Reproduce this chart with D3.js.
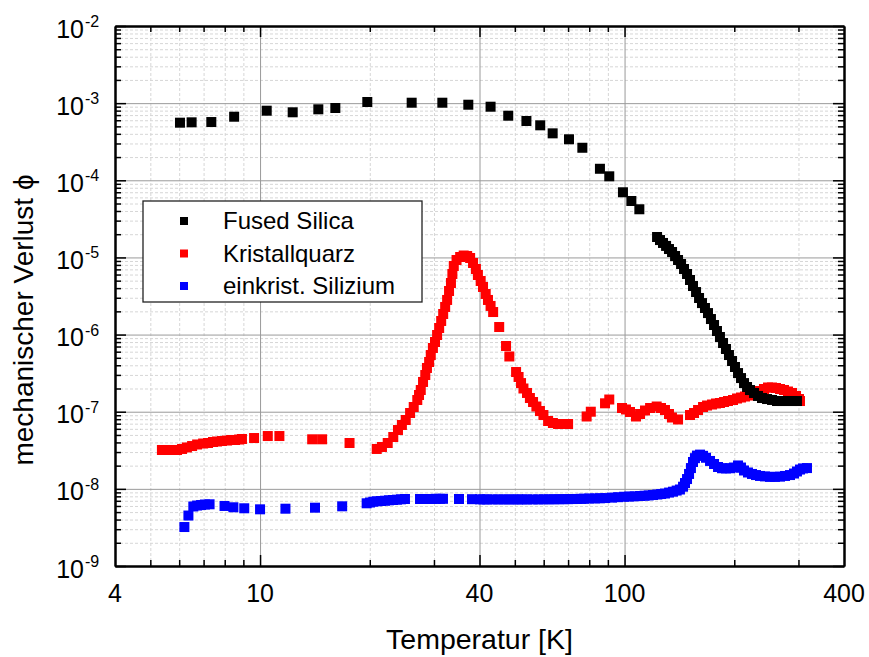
<!DOCTYPE html>
<html>
<head>
<meta charset="utf-8">
<script src="https://cdn.jsdelivr.net/npm/d3@7"></script>
<style>
body { margin: 0; background: #fff; }
text { font-family: "Liberation Sans", Arial, sans-serif; fill: #000; }
</style>
</head>
<body>
<svg id="chart" width="869" height="657"></svg>
<script>
// [Temperatur K, phi]
const fusedSilica = [
  [6.03,5.58e-4],[6.49,5.64e-4],[7.35,5.69e-4],[8.49,6.67e-4],[10.43,7.98e-4],[12.29,7.61e-4],
  [14.45,8.32e-4],[16.09,8.65e-4],[19.69,1.035e-3],[26.06,1.013e-3],[31.63,1.013e-3],[37.27,9.54e-4],
  [42.9,8.99e-4],[47.96,6.87e-4],[53.8,5.87e-4],[58.7,5.16e-4],[63.5,4.06e-4],[70.4,3.40e-4],
  [76.6,2.64e-4],[85.6,1.41e-4],[90.8,1.126e-4],[99.0,6.99e-5],[104.4,5.39e-5],[109.8,4.21e-5],
  [122.8,1.84e-5],[125.1,1.68e-5],[127.5,1.54e-5],[130.0,1.41e-5],[132.4,1.285e-5],[135.0,1.176e-5],
  [137.6,1.043e-5],[140.2,9.26e-6],[142.9,8.22e-6],[145.6,7.08e-6],[148.4,6.10e-6],[151.2,5.10e-6],
  [154.1,4.26e-6],[157.1,3.56e-6],[160.1,2.98e-6],[163.1,2.56e-6],[166.2,2.21e-6],[169.4,1.90e-6],
  [172.6,1.59e-6],[176.0,1.33e-6],[179.3,1.112e-6],[182.7,9.30e-7],[186.3,7.77e-7],[189.8,6.50e-7],
  [193.4,5.43e-7],[197.2,4.54e-7],[200.9,3.80e-7],[204.8,3.17e-7],[208.7,2.73e-7],[212.7,2.35e-7],
  [216.8,2.09e-7],[220.9,1.91e-7],[226.6,1.75e-7],[232.4,1.60e-7],[238.3,1.505e-7],[246.0,1.46e-7],
  [253.9,1.42e-7],[262.0,1.376e-7],[270.5,1.376e-7],[279.1,1.376e-7],[288.1,1.376e-7],[297.2,1.376e-7]
];

const kristallquarz = [
  [5.38,3.19e-8],[5.56,3.19e-8],[5.74,3.19e-8],[5.92,3.19e-8],[6.11,3.29e-8],[6.30,3.44e-8],
  [6.51,3.59e-8],[6.72,3.76e-8],[6.98,3.87e-8],[7.20,3.93e-8],[7.43,4.05e-8],[7.62,4.11e-8],
  [7.86,4.17e-8],[8.12,4.23e-8],[8.33,4.30e-8],[8.54,4.30e-8],[8.76,4.36e-8],[8.92,4.43e-8],
  [9.63,4.56e-8],[10.5,4.84e-8],[11.3,4.84e-8],[13.9,4.39e-8],[14.8,4.39e-8],[17.6,3.93e-8],
  [20.9,3.29e-8],[21.6,3.49e-8],[22.4,3.93e-8],[23.2,4.70e-8],[23.9,5.79e-8],[24.5,6.73e-8],
  [25.1,7.81e-8],[25.8,9.62e-8],[26.4,1.151e-7],[27.0,1.418e-7],[27.3,1.647e-7],[27.6,1.912e-7],
  [28.0,2.43e-7],[28.4,2.99e-7],[28.7,3.69e-7],[29.1,4.41e-7],[29.4,5.43e-7],[29.8,6.70e-7],
  [30.2,8.01e-7],[30.6,9.87e-7],[31.0,1.217e-6],[31.4,1.50e-6],[31.8,1.848e-6],[32.2,2.28e-6],
  [32.6,2.81e-6],[33.0,3.67e-6],[33.4,4.66e-6],[33.7,6.10e-6],[34.0,7.74e-6],[34.6,9.26e-6],
  [35.4,1.013e-5],[36.2,1.059e-5],[37.0,1.043e-5],[37.7,9.83e-6],[38.4,8.47e-6],[39.1,7.08e-6],
  [39.6,5.92e-6],[40.3,4.95e-6],[40.9,4.14e-6],[41.6,3.36e-6],[42.2,2.81e-6],[42.9,2.35e-6],
  [43.6,1.96e-6],[45.3,1.253e-6],[47.3,7.11e-7],[48.3,5.20e-7],[50.4,3.27e-7],[51.2,2.82e-7],
  [52.0,2.35e-7],[52.8,2.00e-7],[54.0,1.75e-7],[55.0,1.505e-7],[56.1,1.336e-7],[57.3,1.168e-7],
  [58.6,1.021e-7],[59.9,9.06e-8],[61.7,7.58e-8],[63.6,7.14e-8],[65.7,6.93e-8],[67.8,6.93e-8],
  [70.0,6.93e-8],[78.7,8.67e-8],[80.8,1.0e-7],[88.4,1.285e-7],[90.8,1.439e-7],[98.4,1.117e-7],
  [100.9,1.069e-7],[103.5,9.92e-8],[107.5,8.67e-8],[110.3,9.34e-8],[113.8,1.037e-7],[117.5,1.117e-7],
  [122.5,1.168e-7],[125.9,1.117e-7],[129.1,1.052e-7],[132.4,9.34e-8],[134.9,8.41e-8],[140.2,7.93e-8],
  [151.2,9.06e-8],[155.1,9.62e-8],[159.1,1.052e-7],[164.2,1.151e-7],[168.4,1.203e-7],[173.8,1.240e-7],
  [178.2,1.278e-7],[182.7,1.297e-7],[187.5,1.336e-7],[192.2,1.376e-7],[198.4,1.418e-7],[203.5,1.483e-7],
  [208.7,1.528e-7],[214.0,1.574e-7],[219.5,1.622e-7],[223.7,1.671e-7],[229.4,1.75e-7],[235.3,1.856e-7],
  [241.3,1.970e-7],[247.5,2.06e-7],[253.8,2.06e-7],[260.3,2.03e-7],[267.0,1.970e-7],[273.8,1.912e-7],
  [280.8,1.828e-7],[288.0,1.75e-7],[295.4,1.60e-7],[301.0,1.461e-7],[302.9,1.376e-7]
];

const silizium = [
  [6.20,3.20e-9],[6.36,4.51e-9],[6.56,5.91e-9],[6.72,6.08e-9],[6.89,6.17e-9],[7.06,6.27e-9],
  [7.27,6.31e-9],[7.99,6.0e-9],[8.45,5.77e-9],[9.05,5.60e-9],[10.0,5.43e-9],[11.74,5.53e-9],
  [14.15,5.70e-9],[16.8,5.94e-9],[19.61,6.50e-9],[20.03,6.65e-9],[20.45,6.82e-9],[20.94,6.90e-9],
  [21.47,6.96e-9],[22.02,7.02e-9],[22.58,7.11e-9],[23.16,7.17e-9],[23.75,7.24e-9],[24.36,7.32e-9],
  [24.98,7.39e-9],[27.47,7.39e-9],[28.17,7.39e-9],[28.89,7.39e-9],[29.63,7.39e-9],[30.39,7.43e-9],
  [31.17,7.43e-9],[31.76,7.43e-9],[35.14,7.39e-9],[38.15,7.35e-9],[40.13,7.32e-9],[41,7.3e-9],
  [42,7.3e-9],[43.5,7.3e-9],[45,7.3e-9],[46.5,7.3e-9],[48,7.3e-9],[49.5,7.3e-9],[51,7.3e-9],
  [52.5,7.3e-9],[54,7.3e-9],[56,7.3e-9],[58,7.3e-9],[60,7.32e-9],[62,7.32e-9],[64,7.33e-9],
  [66,7.34e-9],[68,7.35e-9],[70,7.36e-9],[72,7.38e-9],[74,7.4e-9],[76,7.42e-9],[77.4,7.45e-9],
  [80,7.5e-9],[83,7.52e-9],[85.6,7.55e-9],[88.5,7.6e-9],[92.4,7.7e-9],[96,7.8e-9],[99.7,7.9e-9],
  [103,7.95e-9],[106.5,8.0e-9],[110.3,8.08e-9],[113.5,8.15e-9],[116.5,8.22e-9],[119.7,8.32e-9],
  [123,8.45e-9],[126,8.57e-9],[129.1,8.7e-9],[132.5,8.95e-9],[135.8,9.19e-9],[139,9.5e-9],
  [141.9,9.81e-9],[144.7,1.066e-8],[146.5,1.19e-8],[148.4,1.34e-8],[150.3,1.56e-8],[152.1,1.86e-8],
  [154.1,2.23e-8],[156.0,2.5e-8],[158.0,2.7e-8],[161.1,2.78e-8],[164.2,2.68e-8],[167.3,2.53e-8],
  [171.6,2.3e-8],[176.0,2.1e-8],[180.5,1.92e-8],[185.1,1.85e-8],[189.8,1.84e-8],[194.7,1.85e-8],
  [199.6,1.89e-8],[204.8,2.01e-8],[208.7,1.89e-8],[212.7,1.73e-8],[218.1,1.63e-8],[223.7,1.56e-8],
  [229.4,1.51e-8],[235.3,1.47e-8],[242.8,1.45e-8],[250.6,1.43e-8],[258.6,1.43e-8],[267.0,1.44e-8],
  [275.6,1.47e-8],[284.4,1.51e-8],[291.7,1.58e-8],[297.2,1.68e-8],[302.9,1.78e-8],[308.7,1.84e-8],
  [316.6,1.86e-8]
];

const xLabels = [4, 10, 40, 100, 400];
const xMajor = [10, 40, 100];
const xMinor = [5, 6, 7, 8, 9, 20, 30, 50, 60, 70, 80, 90, 200, 300];
const yExponents = [-9, -8, -7, -6, -5, -4, -3, -2];

const seriesNames = ["Fused Silica", "Kristallquarz", "einkrist. Silizium"];
const seriesColors = ["#000000", "#ff0000", "#0000ff"];

var margin = {top: 26, left: 115, right: 25, bottom: 91},
    width = 869, height = 657;
var x0 = margin.left, x1 = width - margin.right,
    y0 = height - margin.bottom, y1 = margin.top;

var svg = d3.select('#chart');

var x = d3.scaleLog().domain([4, 400]).range([x0, x1]);
var y = d3.scaleLog().domain([1e-9, 1e-2]).range([y0, y1]);

var yMajor = yExponents.map(e => Math.pow(10, e));
var yMinor = [];
yExponents.slice(0, -1).forEach(e => {
  for (var k = 2; k <= 9; k++) yMinor.push(k * Math.pow(10, e));
});

// grid
function grid(axis, tr, color, dash) {
  var g = svg.append('g').attr('transform', tr).call(axis);
  g.select('.domain').remove();
  g.selectAll('line').attr('stroke', color).attr('stroke-width', 1)
    .attr('stroke-dasharray', dash);
  g.selectAll('text').remove();
  return g;
}
grid(d3.axisBottom(x).tickValues(xMinor).tickSize(-(y0 - y1)), `translate(0,${y0})`, '#d6d6d6', '3,2');
grid(d3.axisLeft(y).tickValues(yMinor).tickSize(-(x1 - x0)), `translate(${x0},0)`, '#d6d6d6', '3,2');
grid(d3.axisBottom(x).tickValues(xMajor).tickSize(-(y0 - y1)), `translate(0,${y0})`, '#9a9a9a', null);
grid(d3.axisLeft(y).tickValues(yMajor).tickSize(-(x1 - x0)), `translate(${x0},0)`, '#9a9a9a', null);

// data
var s = 10;
function drawSeries(data, color) {
  svg.append('g').selectAll('rect')
    .data(data)
    .enter()
    .append('rect')
    .attr('x', d => x(d[0]) - s / 2)
    .attr('y', d => y(d[1]) - s / 2)
    .attr('width', s)
    .attr('height', s)
    .attr('fill', color);
}
drawSeries(silizium, seriesColors[2]);
drawSeries(kristallquarz, seriesColors[1]);
drawSeries(fusedSilica, seriesColors[0]);

// axes with inward ticks on all four sides
function frame(axisFn, scale, major, minor, tr, bigLen, smallLen) {
  var g = svg.append('g').attr('transform', tr);
  g.call(axisFn(scale).tickValues(minor).tickSize(-smallLen).tickSizeOuter(0).tickFormat(''));
  g.append('g').call(axisFn(scale).tickValues(major).tickSize(-bigLen).tickSizeOuter(0).tickFormat(''));
  g.selectAll('.domain').attr('stroke', '#000').attr('stroke-width', 2);
  g.selectAll('line').attr('stroke', '#000').attr('stroke-width', 1.5);
  return g;
}
frame(d3.axisBottom, x, xMajor, xMinor, `translate(0,${y0})`, 11, 6);
frame(d3.axisTop, x, xMajor, xMinor, `translate(0,${y1})`, 11, 6);
frame(d3.axisLeft, y, yMajor, yMinor, `translate(${x0},0)`, 11, 6);
frame(d3.axisRight, y, yMajor, yMinor, `translate(${x1},0)`, 11, 6);

// x tick labels
svg.append('g').selectAll('text')
  .data(xLabels)
  .enter()
  .append('text')
  .attr('x', d => x(d))
  .attr('y', y0 + 36)
  .attr('text-anchor', 'middle')
  .style('font-size', '25px')
  .text(d => d);

// y tick labels 10^e
var yl = svg.append('g').selectAll('g')
  .data(yExponents)
  .enter()
  .append('g');
yl.append('text')
  .attr('x', 84)
  .attr('y', d => y(Math.pow(10, d)) + 11.5)
  .attr('text-anchor', 'end')
  .style('font-size', '25px')
  .text('10');
yl.append('text')
  .attr('x', 85)
  .attr('y', d => y(Math.pow(10, d)) + 1)
  .style('font-size', '16px')
  .text(d => '-' + Math.abs(d));

// axis titles
svg.append('text')
  .attr('x', (x0 + x1) / 2)
  .attr('y', 649)
  .attr('text-anchor', 'middle')
  .style('font-size', '28.5px')
  .text('Temperatur [K]');

svg.append('text')
  .attr('transform', 'translate(33,320) rotate(-90)')
  .attr('text-anchor', 'middle')
  .style('font-size', '28px')
  .text('mechanischer Verlust \u03d5');

// legend
var lg = svg.append('g');
lg.append('rect')
  .attr('x', 143).attr('y', 201)
  .attr('width', 279).attr('height', 101)
  .attr('fill', '#fff')
  .attr('stroke', '#222')
  .attr('stroke-width', 1.3);
var rows = lg.selectAll('g.row')
  .data(seriesNames)
  .enter()
  .append('g')
  .attr('class', 'row')
  .attr('transform', (d, i) => `translate(0,${229 + i * 32.5})`);
rows.append('rect')
  .attr('x', 180).attr('y', -12)
  .attr('width', 8).attr('height', 8)
  .attr('fill', (d, i) => seriesColors[i]);
rows.append('text')
  .attr('x', 223)
  .attr('y', 0)
  .style('font-size', '24px')
  .text(d => d);
</script>
</body>
</html>
